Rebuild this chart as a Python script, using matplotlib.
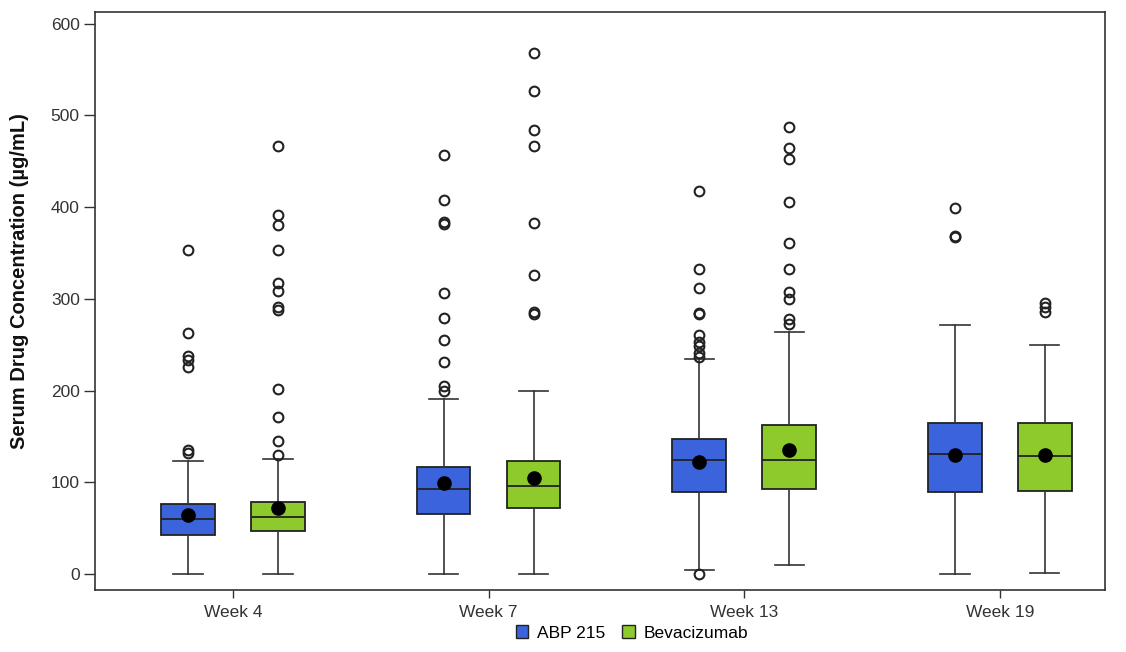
import matplotlib
matplotlib.use("Agg")
import matplotlib.pyplot as plt
from matplotlib.patches import Patch

plt.rcParams['font.family'] = ['Liberation Sans', 'DejaVu Sans']

weeks = ["Week 4", "Week 7", "Week 13", "Week 19"]
groups = ["ABP 215", "Bevacizumab"]
colors = ["#3b63db", "#8fca2c"]

# ABP 215
abp_whislo = [0, 0, 4, 0]
abp_q1 = [42, 65, 89, 89]
abp_med = [60, 93, 124, 131]
abp_q3 = [76, 117, 147, 165]
abp_whishi = [123, 191, 234, 272]
abp_mean = [64, 99, 122, 130]
abp_fliers = [
    [353, 263, 238, 233, 226, 135, 132],
    [457, 408, 384, 382, 306, 279, 255, 231, 205, 200],
    [418, 332, 312, 285, 283, 261, 253, 249, 241, 237, 0],
    [399, 368, 367],
]

# Bevacizumab
bev_whislo = [0, 0, 10, 1]
bev_q1 = [47, 72, 93, 90]
bev_med = [62, 96, 124, 129]
bev_q3 = [79, 123, 162, 165]
bev_whishi = [125, 199, 264, 250]
bev_mean = [72, 105, 135, 130]
bev_fliers = [
    [467, 391, 380, 353, 317, 309, 291, 288, 202, 171, 145, 130],
    [568, 527, 484, 467, 383, 326, 286, 284],
    [487, 464, 452, 406, 361, 333, 307, 300, 278, 273],
    [296, 291, 286],
]

yticks = [0, 100, 200, 300, 400, 500, 600]

fig = plt.figure(figsize=(11.26, 6.52), dpi=100)
ax = fig.add_axes([0.0844, 0.095, 0.8966, 0.887])

offset = 0.176
width = 0.21

def make_stats(whislo, q1, med, q3, whishi, mean, fliers):
    out = []
    for i in range(len(med)):
        out.append(dict(whislo=whislo[i], q1=q1[i], med=med[i], q3=q3[i],
                        whishi=whishi[i], mean=mean[i], fliers=fliers[i]))
    return out

sets = [
    make_stats(abp_whislo, abp_q1, abp_med, abp_q3, abp_whishi, abp_mean, abp_fliers),
    make_stats(bev_whislo, bev_q1, bev_med, bev_q3, bev_whishi, bev_mean, bev_fliers),
]

edge = "#222222"
for gi, stats in enumerate(sets):
    pos = [i + (gi * 2 - 1) * offset for i in range(len(weeks))]
    ax.bxp(stats, positions=pos, widths=width, patch_artist=True,
           showmeans=True, showfliers=True,
           boxprops=dict(facecolor=colors[gi], edgecolor=edge, linewidth=1.3),
           medianprops=dict(color=edge, linewidth=1.3),
           whiskerprops=dict(color="#333333", linewidth=1.2),
           capprops=dict(color="#333333", linewidth=1.2),
           capwidths=0.115,
           meanprops=dict(marker="o", markerfacecolor="black", markeredgecolor="black",
                          markersize=9.5),
           flierprops=dict(marker="o", markerfacecolor="none", markeredgecolor="#222222",
                           markersize=7, markeredgewidth=1.5))

ax.set_xlim(-0.54, 3.41)
ax.set_ylim(-17.5, 613)
ax.set_xticks(range(len(weeks)))
ax.set_xticklabels(weeks, fontsize=12.5, color="#333333")
ax.set_yticks(yticks)
ax.set_yticklabels([str(v) for v in yticks], fontsize=12.5, color="#333333")
ax.tick_params(axis="y", length=8, width=1, color="#333333", pad=3)
ax.tick_params(axis="x", length=6, width=1, color="#333333", pad=5)
for s in ax.spines.values():
    s.set_color("#333333")
    s.set_linewidth(1.2)

fig.text(20 / 1126, 1 - 281 / 652, "Serum Drug Concentration (µg/mL)", rotation=90,
         ha="center", va="center", fontsize=14.5, fontweight="bold", color="#111111")

handles = [Patch(facecolor=colors[i], edgecolor=edge, label=groups[i]) for i in range(2)]
fig.legend(handles=handles, loc="center", bbox_to_anchor=(632 / 1126, 1 - 633 / 652), ncol=2,
           frameon=False, fontsize=12.5, handlelength=0.7, handleheight=0.7,
           columnspacing=1.0, handletextpad=0.5)

fig.savefig("out.png", dpi=100)
